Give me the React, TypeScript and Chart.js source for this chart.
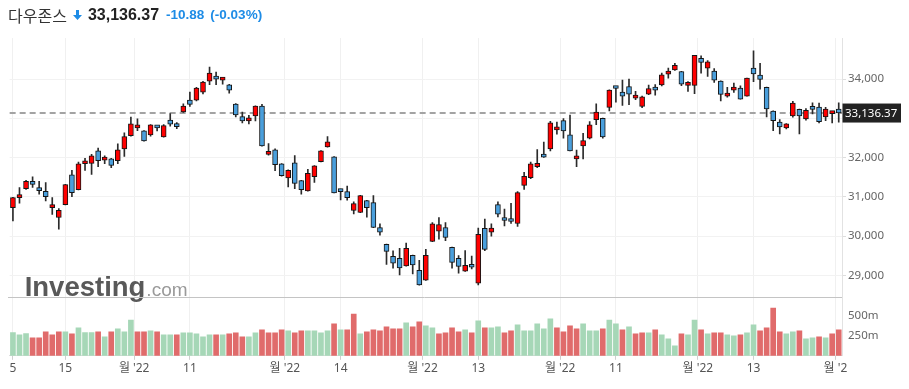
import React, { useEffect, useRef } from "react";
import { Chart, registerables } from "chart.js";

Chart.register(...registerables);

// ---- data (Dow Jones daily, Jul 5 2022 – Jan 3 2023) ----
const OPEN = [
  30730, 30983, 31211, 31372, 31211, 31144, 30730, 30476, 30806, 31566,
  31186, 31845, 31853, 32175, 31938, 31972, 31921, 32225, 32563, 32758,
  32682, 32580, 32808, 32529, 32960, 32834, 33163, 33467, 33467, 33670,
  33949, 34051, 33975, 33856, 33366, 33045, 32935, 33062, 33315, 32082,
  32200, 31845, 31482, 31870, 31414, 31152, 31515, 31896, 32276, 32022,
  31161, 31135, 30654, 30603, 30907, 30857, 30223, 29792, 29488, 29437,
  29243, 29513, 29134, 28880, 29868, 30130, 30223, 29716, 29437, 29108,
  29268, 28804, 30198, 30105, 30805, 30451, 30434, 30324, 31296, 31490,
  31769, 32073, 32225, 32706, 32943, 32580, 31971, 32301, 32496, 32968,
  33003, 33281, 33813, 33670, 33813, 33517, 33306, 33619, 33762, 33855,
  34126, 34236, 34194, 33839, 33839, 34532, 34278, 34203, 33949, 33569,
  33721, 33771, 33569, 34278, 34101, 33789, 33188, 32909, 32758, 33062,
  33230, 32986, 33290, 33290, 33037, 33121, 33239,
];
const HIGH = [
  30990, 31237, 31422, 31515, 31397, 31363, 30983, 30704, 31320, 31676,
  31887, 31980, 32082, 32242, 32048, 31980, 32352, 32631, 33036, 32986,
  32690, 32842, 32817, 32842, 33121, 32893, 33374, 33670, 33789, 33941,
  34304, 34177, 34034, 33865, 33375, 33163, 33079, 33320, 33357, 32360,
  32225, 31850, 31693, 32056, 31420, 31701, 31800, 32180, 32538, 32030,
  31203, 31279, 30873, 31040, 30912, 31035, 30316, 29800, 29631, 29691,
  29826, 29520, 29387, 29665, 30350, 30476, 30350, 29722, 29505, 29632,
  29496, 30206, 30434, 30316, 30873, 30688, 30839, 31135, 31625, 31887,
  32208, 32394, 32926, 32909, 32994, 33087, 32191, 32622, 32918, 33374,
  33010, 33725, 33818, 33973, 33999, 33687, 33565, 33847, 33864, 34151,
  34278, 34405, 34200, 33940, 34608, 34591, 34473, 34270, 33955, 33789,
  33898, 33831, 34025, 34718, 34405, 33795, 33192, 32969, 32865, 33433,
  33236, 33247, 33399, 33391, 33281, 33180, 33399,
];
const LOW = [
  30392, 30839, 31194, 31245, 31068, 30899, 30552, 30180, 30800, 31008,
  31180, 31676, 31575, 31769, 31845, 31744, 31845, 32031, 32546, 32690,
  32420, 32546, 32682, 32520, 32800, 32741, 33155, 33307, 33442, 33620,
  33856, 33856, 33873, 33645, 33036, 32884, 32859, 32935, 32295, 32065,
  31668, 31532, 31253, 31211, 31068, 31145, 31372, 31890, 32270, 31100,
  30924, 30916, 30569, 30600, 30485, 30218, 30029, 29285, 29184, 29015,
  29238, 29040, 28755, 28875, 29862, 29927, 29885, 29184, 29057, 29102,
  29167, 28762, 29631, 30003, 30493, 30265, 30324, 30248, 31194, 31465,
  31743, 32006, 32174, 32597, 32496, 32170, 31769, 31971, 32479, 32842,
  32496, 33188, 33416, 33332, 33349, 33475, 33273, 33602, 33594, 33830,
  34025, 34219, 33831, 33687, 33628, 34152, 34067, 33915, 33442, 33543,
  33662, 33492, 33569, 33932, 33746, 33037, 32690, 32606, 32732, 33028,
  32606, 32952, 33112, 32884, 32943, 32884, 32901,
];
const CLOSE = [
  30983, 31059, 31397, 31321, 31161, 31008, 30789, 30662, 31313, 31110,
  31845, 31904, 32048, 31921, 31997, 31803, 32200, 32538, 32859, 32817,
  32428, 32834, 32758, 32817, 32850, 32791, 33315, 33358, 33772, 33924,
  34152, 34000, 34034, 33721, 33087, 32935, 32986, 33315, 32301, 32124,
  31820, 31541, 31676, 31346, 31186, 31600, 31794, 32175, 32403, 31105,
  31135, 30983, 30831, 31035, 30730, 30223, 30105, 29614, 29311, 29192,
  29691, 29268, 28762, 29513, 30316, 30299, 29969, 29336, 29234, 29260,
  29209, 30045, 29665, 30206, 30561, 30400, 30375, 31110, 31524, 31846,
  31855, 32014, 32884, 32758, 32681, 32174, 32022, 32436, 32833, 33163,
  32529, 33720, 33762, 33568, 33619, 33560, 33552, 33762, 33720, 34109,
  34193, 34354, 33873, 33881, 34608, 34425, 34440, 33974, 33610, 33619,
  33797, 33492, 34025, 34135, 33991, 33239, 32943, 32783, 32859, 33391,
  33062, 33205, 33230, 32918, 33239, 33163, 33136.37,
];
// volume, millions of shares
const VOLUME_M = [
  292, 263, 279, 225, 225, 300, 263, 300, 300, 275,
  350, 292, 292, 300, 238, 300, 338, 300, 450, 300,
  300, 313, 300, 263, 263, 263, 288, 288, 275, 238,
  263, 263, 263, 275, 288, 238, 238, 288, 325, 288,
  288, 325, 313, 288, 313, 313, 313, 288, 313, 400,
  325, 325, 525, 275, 300, 325, 313, 363, 338, 338,
  413, 363, 425, 375, 350, 275, 288, 350, 300, 325,
  288, 438, 350, 350, 363, 288, 313, 388, 313, 313,
  400, 338, 463, 350, 300, 375, 338, 400, 313, 313,
  338, 450, 400, 325, 363, 275, 288, 288, 325, 263,
  213, 125, 275, 263, 450, 325, 275, 288, 288, 263,
  250, 263, 288, 388, 313, 350, 600, 300, 275, 300,
  313, 213, 225, 238, 225, 275, 325,
];
const X_TICK_POS = [0, 8, 18.5, 27, 41.5, 50, 62.5, 71, 83.5, 92, 104.5, 113, 125.5];
const X_TICK_LABELS = ["5", "15", "월 '22", "11", "월 '22", "14", "월 '22", "13", "월 '22", "11", "월 '22", "13", "월 '2"];
const PRICE_TICKS = [29000, 30000, 31000, 32000, 33000, 34000];
const VOLUME_TICKS = [250, 500];
const LAST_PRICE = 33136.37;
const TITLE = "다우존스";
const LAST_LABEL = "33,136.37";
const CHANGE = "-10.88";
const CHANGE_PCT = "(-0.03%)";

const CANDLE_UP = "#ff0000";
const CANDLE_DOWN = "#4a9fdc";
const VOL_UP = "#a6d7b7";
const VOL_DOWN = "#e06b6b";
const BLUE_TEXT = "#1e8ce6";
const FONT = '"Noto Sans", "Noto Sans CJK KR", sans-serif';

const overlayPlugin = {
  id: "overlay",
  beforeDatasetsDraw(chart: any) {
    const { ctx, chartArea, scales } = chart;
    const y = scales.y;
    ctx.save();
    // watermark
    ctx.textBaseline = "alphabetic";
    ctx.font = 'bold 27.5px "Liberation Sans", Arial, sans-serif';
    ctx.fillStyle = "#595959";
    const wx = chartArea.left + 15;
    const wy = y.bottom - 1;
    ctx.fillText("Investing", wx, wy);
    const w = ctx.measureText("Investing").width;
    ctx.font = '19px "Liberation Sans", Arial, sans-serif';
    ctx.fillStyle = "#9a9a9a";
    ctx.fillText(".com", wx + w + 1, wy);
    // separator between price and volume panes
    ctx.strokeStyle = "#c4c4c4";
    ctx.lineWidth = 1;
    const sy = Math.round(y.bottom) + 0.5;
    ctx.beginPath();
    ctx.moveTo(chartArea.left - 8, sy);
    ctx.lineTo(chartArea.right, sy);
    ctx.stroke();
    // last price dashed line
    const py = y.getPixelForValue(LAST_PRICE);
    ctx.setLineDash([6, 4]);
    ctx.lineWidth = 2;
    ctx.strokeStyle = "#a3a3a3";
    ctx.beginPath();
    ctx.moveTo(chartArea.left, py);
    ctx.lineTo(chartArea.right, py);
    ctx.stroke();
    ctx.restore();
  },
  afterDraw(chart: any) {
    const { ctx, chartArea, scales } = chart;
    const py = scales.y.getPixelForValue(LAST_PRICE);
    ctx.save();
    ctx.fillStyle = "#222222";
    ctx.fillRect(chartArea.right + 0.5, py - 9.5, 58.5, 19);
    ctx.fillStyle = "#ffffff";
    ctx.font = "11.5px " + FONT;
    ctx.textBaseline = "middle";
    ctx.textAlign = "left";
    ctx.fillText(LAST_LABEL, chartArea.right + 3, py + 0.5);
    ctx.restore();
  },
};

function ChartCanvas() {
  const ref = useRef<HTMLCanvasElement | null>(null);
  useEffect(() => {
    if (!ref.current) return;
    const idx = CLOSE.map((_, i) => i);
    const chart = new Chart(ref.current, {
      type: "bar",
      data: {
        datasets: [
          {
            label: "body",
            data: idx.map((i) => ({ x: i, y: [Math.min(OPEN[i], CLOSE[i]), Math.max(OPEN[i], CLOSE[i])] })) as any,
            backgroundColor: idx.map((i) => (CLOSE[i] >= OPEN[i] ? CANDLE_UP : CANDLE_DOWN)),
            borderColor: "#151515",
            borderWidth: 1,
            borderSkipped: false,
            barThickness: 5,
            minBarLength: 3,
            grouped: false,
            yAxisID: "y",
            order: 0,
          },
          {
            label: "wick",
            data: idx.map((i) => ({ x: i, y: [LOW[i], HIGH[i]] })) as any,
            backgroundColor: "#2b2b2b",
            barThickness: 1,
            grouped: false,
            yAxisID: "y",
            order: 1,
          },
          {
            label: "volume",
            data: idx.map((i) => ({ x: i, y: VOLUME_M[i] })) as any,
            backgroundColor: idx.map((i) => (i === 0 || CLOSE[i] >= CLOSE[i - 1] ? VOL_UP : VOL_DOWN)),
            barThickness: 5,
            grouped: false,
            yAxisID: "yv",
            order: 2,
          },
        ],
      },
      options: {
        responsive: false,
        animation: false,
        layout: { padding: { top: 30, bottom: 11.8, left: 0, right: 0 } },
        plugins: { legend: { display: false }, tooltip: { enabled: false } },
        scales: {
          x: {
            type: "linear",
            min: -0.5,
            max: 126.5,
            offset: false,
            afterBuildTicks: (s: any) => {
              s.ticks = X_TICK_POS.map((v) => ({ value: v }));
            },
            ticks: {
              autoSkip: false,
              maxRotation: 0,
              padding: 1.5,
              color: "#555",
              font: { size: 12, family: FONT },
              callback: (_v: any, i: number) => X_TICK_LABELS[i],
            },
            grid: { offset: false, color: "#f0f0f0", tickLength: 4, tickColor: "#cfcfcf" },
            border: { display: true, color: "#dedede" },
          },
          y: {
            type: "linear",
            position: "right",
            stack: "panes",
            stackWeight: 260,
            min: 28458,
            max: 35047,
            afterBuildTicks: (s: any) => {
              s.ticks = PRICE_TICKS.map((v) => ({ value: v }));
            },
            afterFit: (s: any) => {
              s.width = 59;
            },
            ticks: {
              padding: 2,
              color: "#666",
              font: { size: 11.5, family: FONT },
              callback: (v: any) => (v === 33000 ? "" : Number(v).toLocaleString("en-US")),
            },
            grid: { color: "#f2f2f2", tickLength: 4, tickColor: "#dddddd" },
            border: { display: true, color: "#e2e2e2" },
          },
          yv: {
            type: "linear",
            position: "right",
            stack: "panes",
            stackWeight: 59.3,
            min: 0,
            max: 741,
            afterBuildTicks: (s: any) => {
              s.ticks = VOLUME_TICKS.map((v) => ({ value: v }));
            },
            afterFit: (s: any) => {
              s.width = 59;
            },
            ticks: {
              padding: 2,
              color: "#666",
              font: { size: 11.5, family: FONT },
              callback: (v: any) => v + "m",
            },
            grid: { drawOnChartArea: false, tickLength: 4, color: "rgba(0,0,0,0)" },
            border: { display: true, color: "#e2e2e2" },
          },
        },
      } as any,
      plugins: [overlayPlugin],
    });
    return () => chart.destroy();
  }, []);
  return <canvas ref={ref} width={893} height={381} style={{ position: "absolute", left: 0, top: 0, width: 893, height: 381 }} />;
}

export default function App() {
  return (
    <div style={{ position: "relative", width: 893, height: 381, fontFamily: FONT }}>
      <ChartCanvas />
      <div
        style={{
          position: "absolute",
          left: 0,
          top: -1,
          height: 16,
          display: "flex",
          alignItems: "center",
          whiteSpace: "nowrap",
        }}
      >
        <span style={{ fontFamily: '"Noto Sans CJK KR", sans-serif', fontSize: 16, color: "#333", lineHeight: "16px" }}>{TITLE}</span>
        <svg width="9" height="10" viewBox="0 0 9 10" style={{ marginLeft: 6, marginRight: 6 }}>
          <path d="M3 0 H6 V5 H9 L4.5 10 L0 5 H3 Z" fill={BLUE_TEXT} />
        </svg>
        <span style={{ fontFamily: '"Liberation Sans", Arial, sans-serif', fontWeight: 700, fontSize: 16, color: "#222", lineHeight: "16px" }}>
          {LAST_LABEL}
        </span>
        <span style={{ fontFamily: '"Liberation Sans", Arial, sans-serif', fontWeight: 700, fontSize: 13.5, color: BLUE_TEXT, marginLeft: 7, lineHeight: "16px" }}>
          {CHANGE}
        </span>
        <span style={{ fontFamily: '"Liberation Sans", Arial, sans-serif', fontWeight: 700, fontSize: 13.5, color: BLUE_TEXT, marginLeft: 6, lineHeight: "16px" }}>
          {CHANGE_PCT}
        </span>
      </div>
    </div>
  );
}
